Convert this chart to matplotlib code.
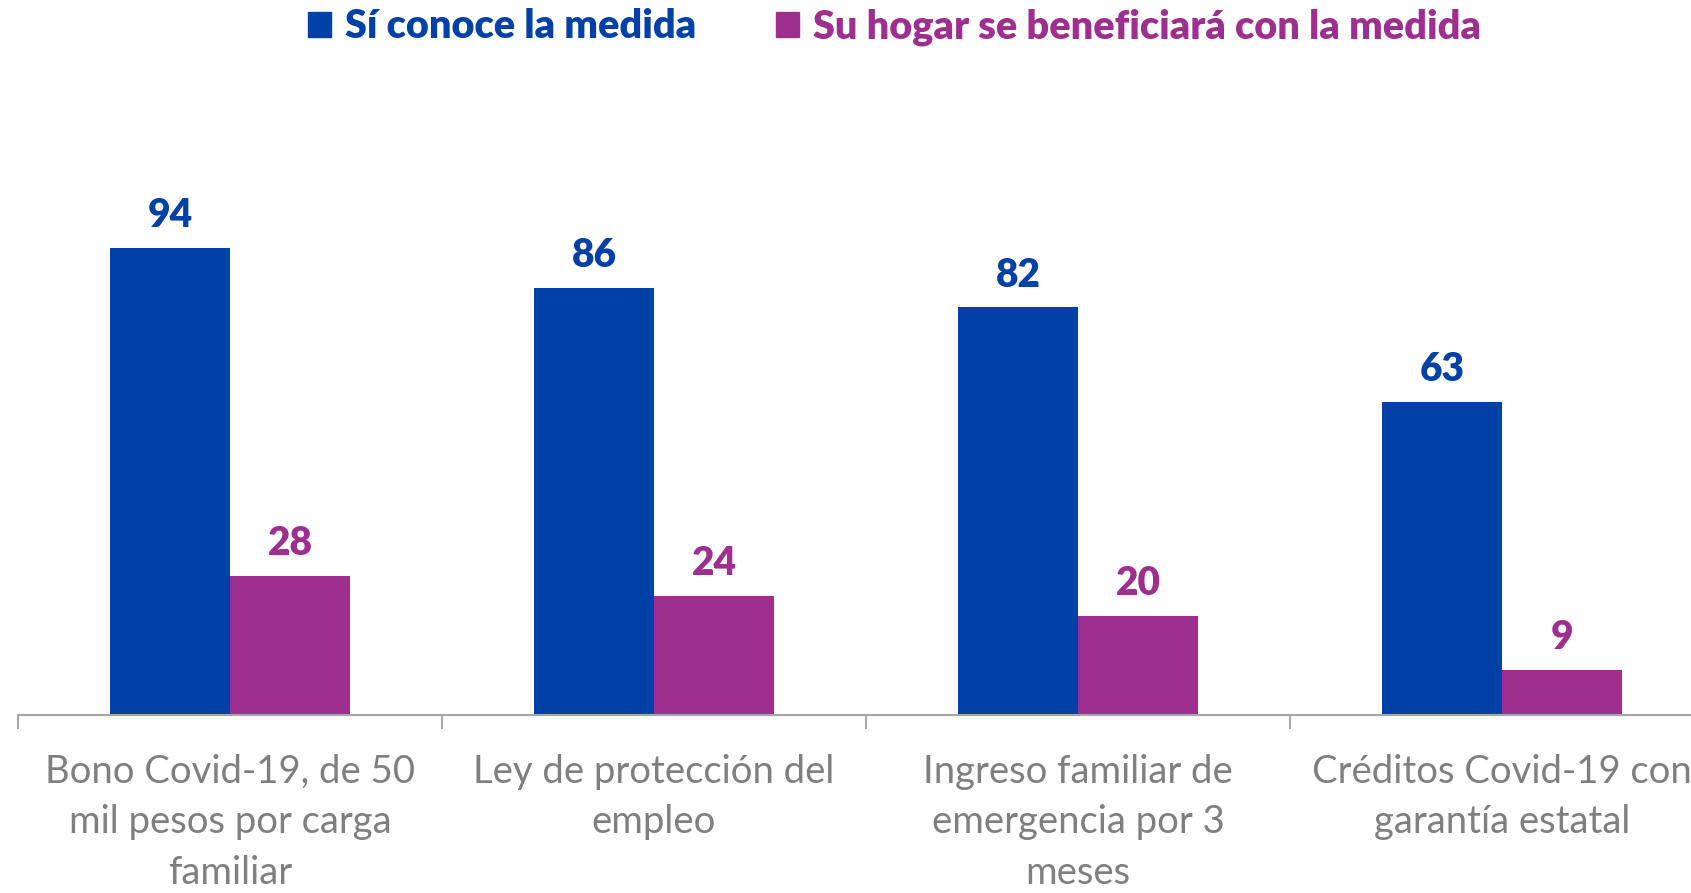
import numpy as np
import matplotlib.pyplot as plt
from matplotlib.patches import Patch

# Categories and values
categories = [
    "Bono Covid-19, de 50\nmil pesos por carga\nfamiliar",
    "Ley de protección del\nempleo",
    "Ingreso familiar de\nemergencia por 3\nmeses",
    "Créditos Covid-19 con\ngarantía estatal",
]
conoce = [94, 86, 82, 63]
beneficiara = [28, 24, 20, 9]
series_names = ["Sí conoce la medida", "Su hogar se beneficiará con la medida"]

blue = "#0040A7"
purple = "#9F2F8E"
gray_text = "#7F7F7F"

plt.rcParams['font.family'] = ['Lato', 'DejaVu Sans']

fig = plt.figure(figsize=(16.91, 8.93), dpi=100)
# plot area runs past the right edge, like the cropped original
ax = fig.add_axes([18 / 1691, 1 - 715 / 893, 4 * 424 / 1691, 497 / 893])

x = np.arange(len(categories))
w = 0.283
b1 = ax.bar(x - w / 2, conoce, w, color=blue)
b2 = ax.bar(x + w / 2, beneficiara, w, color=purple)

for bars, col in [(b1, blue), (b2, purple)]:
    for r in bars:
        ax.annotate(f"{r.get_height():g}", (r.get_x() + r.get_width() / 2, r.get_height()),
                    xytext=(0, 10), textcoords="offset points", ha="center", va="bottom",
                    fontsize=28, fontweight="heavy", color=col)

ax.set_xlim(-0.5, len(categories) - 0.5)
ax.set_ylim(0, 100)
for s in ["top", "right", "left"]:
    ax.spines[s].set_visible(False)
ax.spines["bottom"].set_color("#A6A6A6")
ax.spines["bottom"].set_linewidth(1.5)
ax.set_yticks([])

ax.set_xticks(x)
ax.set_xticklabels(categories, fontsize=27.5, color=gray_text, linespacing=1.5)
ax.tick_params(axis="x", which="major", length=0, pad=28)
ax.set_xticks(np.arange(-0.5, len(categories)), minor=True)
ax.tick_params(axis="x", which="minor", length=10, width=1.5, color="#A6A6A6", direction="out")

handles = [Patch(color=blue), Patch(color=purple)]
leg = fig.legend(handles, series_names, loc="center", bbox_to_anchor=(0.529, 1 - 27 / 893),
                 ncol=2, frameon=False, handlelength=0.6, handleheight=0.6, handletextpad=0.35,
                 columnspacing=2.0, prop={"size": 28.5, "weight": "heavy"})
for t, col in zip(leg.get_texts(), [blue, purple]):
    t.set_color(col)

fig.savefig("out.png", dpi=100)
